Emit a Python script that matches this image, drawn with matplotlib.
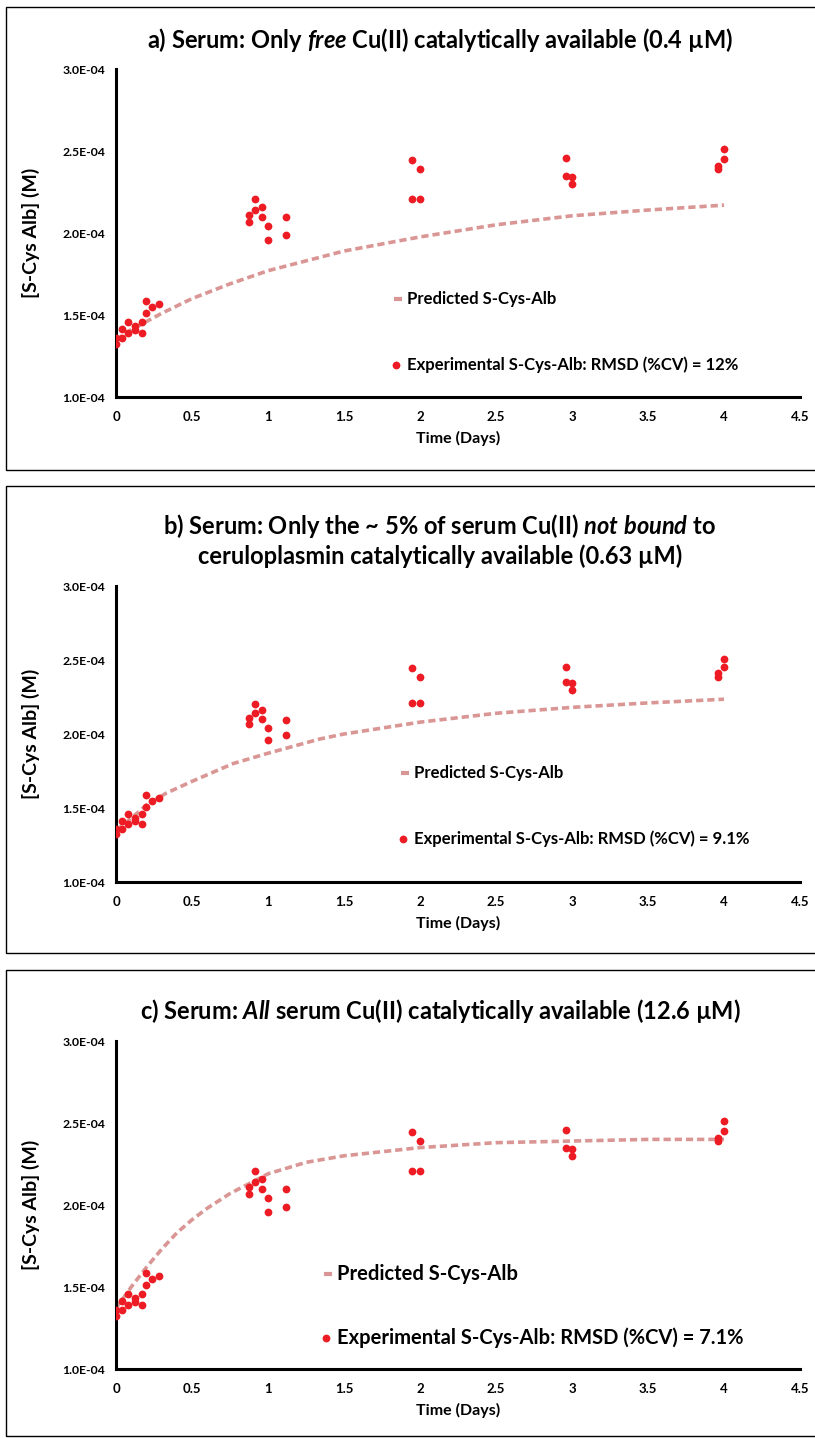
import matplotlib
matplotlib.use('Agg')
import matplotlib.pyplot as plt
from matplotlib.lines import Line2D
from matplotlib.patches import Rectangle
from matplotlib.ticker import FuncFormatter

plt.rcParams['font.family'] = ['Lato', 'DejaVu Sans']
plt.rcParams['font.weight'] = 'bold'
plt.rcParams['mathtext.fontset'] = 'custom'
plt.rcParams['mathtext.rm'] = 'Lato:bold'
plt.rcParams['mathtext.it'] = 'Lato:italic:bold'

# experimental S-Cys-Alb (same samples in every panel), time in days, conc in 1e-4 M
exp_t = [0, 0, 0.04, 0.04, 0.08, 0.08, 0.125, 0.125, 0.17, 0.17, 0.2, 0.2, 0.24, 0.28,
         0.875, 0.875, 0.914, 0.914, 0.958, 0.958, 1.0, 1.0, 1.12, 1.12,
         1.95, 1.95, 2.0, 2.0, 2.96, 2.96, 3.0, 3.0, 3.96, 3.96, 4.0, 4.0]
exp_c = [1.323, 1.36, 1.36, 1.415, 1.39, 1.46, 1.43, 1.41, 1.46, 1.39, 1.51, 1.585, 1.55, 1.57,
         2.11, 2.07, 2.205, 2.14, 2.16, 2.10, 2.04, 1.957, 2.095, 1.99,
         2.445, 2.21, 2.388, 2.21, 2.455, 2.35, 2.343, 2.30, 2.41, 2.388, 2.51, 2.453]

# predicted curves
pa_t = [0, 0.1, 0.2, 0.3, 0.5, 0.75, 1.0, 1.25, 1.5, 2.0, 2.5, 3.0, 3.5, 4.0]
pa_c = [1.35, 1.41, 1.46, 1.51, 1.60, 1.69, 1.77, 1.83, 1.89, 1.976, 2.05, 2.105, 2.14, 2.17]

pb_t = [0, 0.1, 0.2, 0.33, 0.5, 0.77, 1.0, 1.34, 1.5, 2.0, 2.5, 3.0, 3.5, 4.0]
pb_c = [1.35, 1.43, 1.52, 1.60, 1.68, 1.80, 1.87, 1.966, 2.0, 2.08, 2.14, 2.18, 2.21, 2.235]

pc_t = [0, 0.1, 0.2, 0.3, 0.4, 0.5, 0.6, 0.75, 1.0, 1.25, 1.5, 2.0, 2.5, 3.0, 3.5, 4.0]
pc_c = [1.37, 1.50, 1.62, 1.73, 1.83, 1.91, 1.98, 2.07, 2.19, 2.26, 2.30, 2.35, 2.38, 2.39, 2.40, 2.40]

titles = [r'a) Serum: Only $\mathit{free}$ Cu(II) catalytically available (0.4 µM)',
          'b) Serum: Only the ~ 5% of serum Cu(II) $\\mathit{not\\ bound}$ to\n'
          'ceruloplasmin catalytically available (0.63 µM)',
          r'c) Serum: $\mathit{All}$ serum Cu(II) catalytically available (12.6 µM)']
rmsd = ['12%', '9.1%', '7.1%']
curves = [(pa_t, pa_c), (pb_t, pb_c), (pc_t, pc_c)]

W, H = 815, 1438
fig = plt.figure(figsize=(W/100, H/100), dpi=100)

# pixel layout: (box top, box bottom, axes top, axes bottom, title y, legend y1, legend y2, legend x, legend font)
layout = [(7, 470, 69, 397, [40], 299, 365, 396, 12),
          (486, 953, 586, 882, [526, 556], 773, 839, 403, 12),
          (970, 1436, 1041, 1369, [1011], 1274, 1338, 326, 14.5)]

RED = '#ED1C24'
PINK = '#D99694'

def fx(px): return px / W
def fy(py): return 1 - py / H

for i, (btop, bbot, atop, abot, ty, ly1, ly2, lx, lfs) in enumerate(layout):
    fig.patches.append(Rectangle((fx(6), fy(bbot)), fx(830), fy(btop) - fy(bbot),
                                 transform=fig.transFigure, fill=False, lw=1.0, ec='black'))
    ax = fig.add_axes([fx(116), fy(abot), fx(800) - fx(116), fy(atop) - fy(abot)])
    t, c = curves[i]
    ax.plot(t, [v*1e-4 for v in c], color=PINK, lw=2.6, dashes=(2.0, 1.1),
            dash_capstyle='butt', zorder=2)
    ax.plot(exp_t, [v*1e-4 for v in exp_c], 'o', color=RED, ms=5.6, mew=0, zorder=3)
    ax.set_xlim(0, 4.5)
    ax.set_ylim(1.0e-4, 3.0e-4)
    ax.set_xticks([0, 0.5, 1, 1.5, 2, 2.5, 3, 3.5, 4, 4.5])
    ax.set_xticklabels(['0', '0.5', '1', '1.5', '2', '2.5', '3', '3.5', '4', '4.5'])
    ax.set_yticks([1.0e-4, 1.5e-4, 2.0e-4, 2.5e-4, 3.0e-4])
    ax.yaxis.set_major_formatter(FuncFormatter(lambda v, p: '{:.1E}'.format(v)))
    ax.tick_params(length=0, labelsize=8.8, pad=8)
    ax.tick_params(axis='x', labelsize=9.5, pad=10)
    for s in ['top', 'right']:
        ax.spines[s].set_visible(False)
    for s in ['left', 'bottom']:
        ax.spines[s].set_linewidth(2.2)
    ax.set_xlabel('Time (Days)', fontsize=11.5, fontweight='bold', labelpad=6)
    ax.set_ylabel('[S-Cys Alb] (M)', fontsize=14, fontweight='bold')
    ax.yaxis.set_label_coords(fx(40 - 116) / (fx(800) - fx(116)), 0.5)
    ax.patch.set_alpha(0)

    lines = titles[i].split('\n')
    for k, line in enumerate(lines):
        fig.text(fx(440), fy(ty[k]), line, ha='center', va='center', fontsize=17, fontweight='bold')

    # legend, placed by hand like the original
    fig.lines.append(Line2D([fx(lx + 2)], [fy(ly1)], marker='_', ms=6, mew=3, color=PINK,
                            transform=fig.transFigure))
    fig.text(fx(lx + 11), fy(ly1), 'Predicted S-Cys-Alb', ha='left', va='center',
             fontsize=lfs, fontweight='bold')
    fig.lines.append(Line2D([fx(lx)], [fy(ly2)], marker='o', ms=5.6, mew=0, color=RED,
                            transform=fig.transFigure))
    fig.text(fx(lx + 11), fy(ly2), 'Experimental S-Cys-Alb: RMSD (%CV) = ' + rmsd[i],
             ha='left', va='center', fontsize=lfs, fontweight='bold')

fig.savefig('out.png', dpi=100)
